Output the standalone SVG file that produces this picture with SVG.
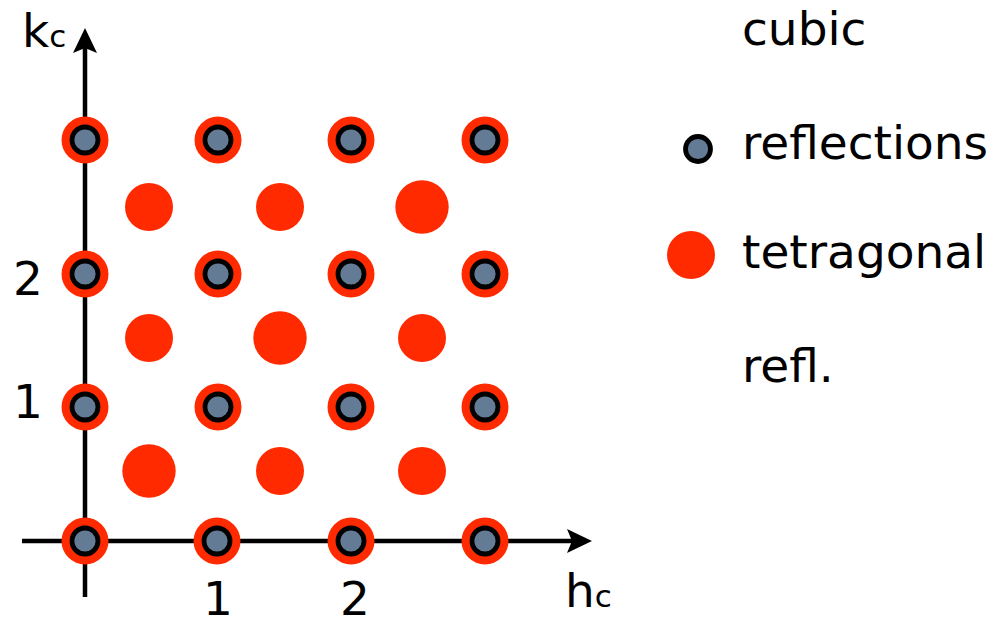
<svg xmlns="http://www.w3.org/2000/svg" xmlns:xlink="http://www.w3.org/1999/xlink" width="1002" height="621" viewBox="0 0 1002 621">
<style>
.t{font-family:"DejaVu Sans","Liberation Sans",sans-serif;font-size:47px;fill:#000}
.s{font-size:31px}
.ax{stroke:#000;stroke-width:4.5;fill:none}
.red{fill:#ff2a00}
.ring{fill:#647b96;stroke:#000;stroke-width:4.8}
</style>
<defs>
<g id="cub"><circle r="23.5" class="red"/><circle r="13" class="ring"/></g>
<circle id="tet" r="24" class="red"/>
<circle id="tetL" r="26.7" class="red"/>
</defs>
<rect width="1002" height="621" fill="#fff"/>
<g id="connectors">
<line class="ax" x1="85" y1="597" x2="85" y2="46"/>
<path d="M85,28 L97,53 L85,48 L73,53 Z" fill="#000"/>
<line class="ax" x1="22" y1="541" x2="574" y2="541"/>
<path d="M592,541 L567,529 L572,541 L567,553 Z" fill="#000"/>
</g>
<g id="cubic-reflections">
<use href="#cub" x="85" y="140"/><use href="#cub" x="218" y="140"/><use href="#cub" x="351" y="140"/><use href="#cub" x="485" y="140"/>
<use href="#cub" x="85" y="274"/><use href="#cub" x="218" y="274"/><use href="#cub" x="351" y="274"/><use href="#cub" x="485" y="274"/>
<use href="#cub" x="85" y="407"/><use href="#cub" x="218" y="407"/><use href="#cub" x="351" y="407"/><use href="#cub" x="485" y="407"/>
<use href="#cub" x="85" y="541"/><use href="#cub" x="217" y="541"/><use href="#cub" x="351" y="541"/><use href="#cub" x="485" y="541"/>
</g>
<g id="tetragonal-reflections">
<use href="#tet" x="149" y="207"/><use href="#tet" x="280" y="207"/><use href="#tetL" x="422" y="207"/>
<use href="#tet" x="149" y="338"/><use href="#tetL" x="280" y="338"/><use href="#tet" x="422" y="338"/>
<use href="#tetL" x="149" y="471"/><use href="#tet" x="280" y="471"/><use href="#tet" x="422" y="471"/>
</g>
<g id="axis-labels">
<text class="t" x="22" y="47">k<tspan class="s">c</tspan></text>
<text class="t" x="565" y="607">h<tspan class="s">c</tspan></text>
<text class="t" x="13" y="295">2</text>
<text class="t" x="13" y="418">1</text>
<text class="t" x="203" y="615">1</text>
<text class="t" x="340" y="615">2</text>
</g>
<g id="legend">
<text class="t" x="742" y="45">cubic</text>
<g id="legend-cubic"><circle cx="698" cy="149" r="12.5" class="ring"/></g>
<text class="t" x="742" y="159">reflections</text>
<g id="legend-tetragonal"><circle cx="691" cy="255" r="24" class="red"/></g>
<text class="t" x="742" y="268">tetragonal</text>
<text class="t" x="742" y="382">refl.</text>
</g>
</svg>
